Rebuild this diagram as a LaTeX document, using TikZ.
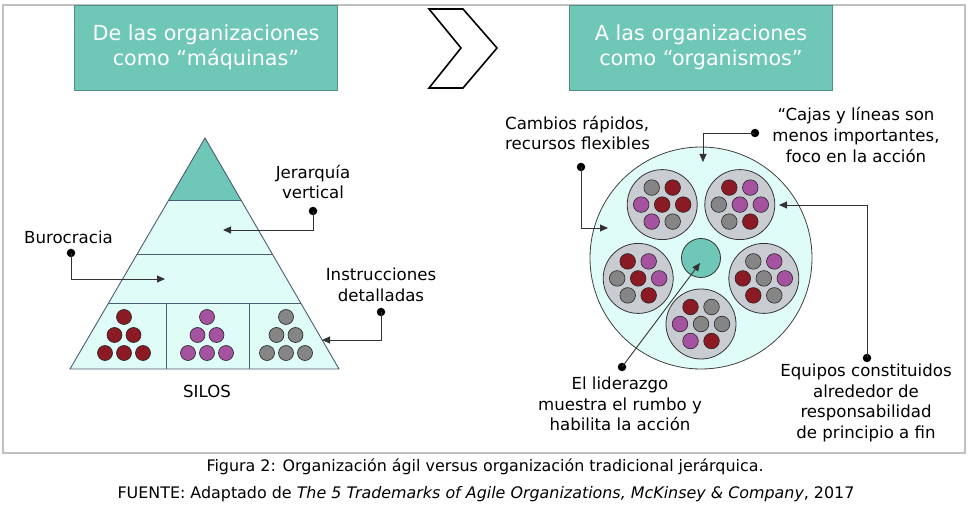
\documentclass[tikz,border=0pt]{standalone}
\usepackage{fontspec}
\setmainfont{DejaVu Sans}
\usetikzlibrary{arrows.meta,calc}
\definecolor{hdrteal}{HTML}{6FC8B7}
\definecolor{hdredge}{HTML}{4F8F84}
\definecolor{lightc}{HTML}{E0FCF7}
\definecolor{slate}{HTML}{4B5D73}
\definecolor{cred}{HTML}{8B1A24}
\definecolor{cpurp}{HTML}{A553A0}
\definecolor{cgray}{HTML}{858585}
\definecolor{teamfill}{HTML}{C9CDD2}
\definecolor{framegray}{HTML}{C0C0C0}
\begin{document}
\begin{tikzpicture}[x=1pt,y=-1pt,
  hdr/.style={draw=hdredge,line width=0.8pt,fill=hdrteal,text=white,align=center,
    minimum width=263pt,minimum height=85pt,inner sep=0pt,
    font=\fontsize{20.7}{24.5}\selectfont},
  lbl/.style={align=center,inner sep=0pt,font=\fontsize{16.6}{20.7}\selectfont},
  dotn/.style={circle,fill=black,inner sep=0pt,minimum size=8.5pt},
  conn/.style={draw=black!80,line width=0.9pt,-{Triangle[length=8pt,width=7pt]}},
  silo/.style={draw=black!85,line width=0.6pt},
  team/.style={circle,draw=black!80,line width=0.8pt,fill=teamfill,minimum size=70pt,inner sep=0pt},
  bigc/.style={circle,draw=black!75,line width=0.8pt,fill=lightc,minimum size=222pt,inner sep=0pt},
  leadc/.style={circle,draw=black!80,line width=0.8pt,fill=hdrteal,minimum size=39pt,inner sep=0pt},
  captxt/.style={inner sep=0pt,font=\fontsize{15.9}{18}\selectfont}]
\useasboundingbox (0,0) rectangle (971,518);
% frame
\draw[framegray,line width=1.2pt] (3,5) rectangle (965,453);
% headers
\node[hdr] (h1) at (206,47.5) {De las organizaciones\\como “máquinas”};
\node[hdr] (h2) at (701,47.5) {A las organizaciones\\como “organismos”};
% chevron
\draw[line width=1.6pt,fill=white,line join=miter] (429,9) -- (463,9) -- (497,48) -- (463,88) -- (429,88) -- (461,48) -- cycle;
% pyramid
\coordinate (apex) at (205,138);
\coordinate (bl) at (70,369);
\coordinate (br) at (339,369);
\coordinate (l1) at ($(apex)!0.2684!(bl)$);
\coordinate (r1) at ($(apex)!0.2684!(br)$);
\coordinate (l2) at ($(apex)!0.5022!(bl)$);
\coordinate (r2) at ($(apex)!0.5022!(br)$);
\coordinate (l3) at ($(apex)!0.7143!(bl)$);
\coordinate (r3) at ($(apex)!0.7143!(br)$);
\fill[lightc] (apex) -- (bl) -- (br) -- cycle;
\fill[hdrteal] (apex) -- (l1) -- (r1) -- cycle;
\draw[slate,line width=0.9pt] (l1) -- (r1) (l2) -- (r2) (l3) -- (r3)
  (166,303) -- (166,369) (249,303) -- (249,369);
\draw[slate,line width=0.9pt] (apex) -- (bl) -- (br) -- cycle;
\foreach \cx/\col in {124/cred,207/cpurp,286/cgray}{
  \foreach \dx/\dy in {0/317,-9.5/335,9.5/335,-19/353,0/353,19/353}
    \draw[silo,fill=\col] (\cx+\dx,\dy) circle (7.5pt);
}
\node[lbl] (silos) at (207,391) {SILOS};
% left labels
\node[lbl] (jer) at (313,182) {Jerarquía\\vertical};
\node[dotn] (d1) at (313,211) {};
\coordinate (t1) at (223,230);
\node[lbl,anchor=west] (buro) at (24,237) {Burocracia};
\node[dotn] (d2) at (71,253) {};
\coordinate (t2) at (165,279);
\node[lbl] (instr) at (381,285) {Instrucciones\\detalladas};
\node[dotn] (d3) at (381,312) {};
\coordinate (t3) at (322,340);
% organism
\node[bigc] (org) at (701,258) {};
\foreach \tx/\ty/\ca/\cb/\cc/\cd/\ce/\cf/\cg [count=\k] in {
  662.2/204.6/cgray/cred/cpurp/cred/cred/cpurp/cgray,
  739.8/204.6/cred/cpurp/cgray/cpurp/cpurp/cgray/cred,
  638.2/278.4/cred/cpurp/cgray/cred/cpurp/cgray/cred,
  763.8/278.4/cgray/cpurp/cred/cgray/cpurp/cred/cgray,
  701/324/cred/cgray/cpurp/cgray/cgray/cpurp/cred}{
  \node[team] (team\k) at (\tx,\ty) {};
  \draw[silo,fill=\ca] (\tx-10.5,\ty-17) circle (7.8pt);
  \draw[silo,fill=\cb] (\tx+10.5,\ty-17) circle (7.8pt);
  \draw[silo,fill=\cc] (\tx-21,\ty) circle (7.8pt);
  \draw[silo,fill=\cd] (\tx,\ty) circle (7.8pt);
  \draw[silo,fill=\ce] (\tx+21,\ty) circle (7.8pt);
  \draw[silo,fill=\cf] (\tx-10.5,\ty+17) circle (7.8pt);
  \draw[silo,fill=\cg] (\tx+10.5,\ty+17) circle (7.8pt);
}
\node[leadc] (lead) at (701,258) {};
% right labels
\node[lbl,anchor=west,align=left] (camb) at (505,133) {Cambios rápidos,\\recursos flexibles};
\node[dotn] (d4) at (581,167) {};
\coordinate (t4) at (608,228);
\node[lbl] (cajas) at (856,135) {“Cajas y líneas son\\menos importantes,\\foco en la acción};
\node[dotn] (d5) at (755,133) {};
\coordinate (t5) at (703,162);
\node[lbl] (equip) at (866,403) {Equipos constituidos\\alrededor de\\responsabilidad\\de principio a fin};
\node[dotn] (d6) at (867,358) {};
\coordinate (t6) at (779,205);
\node[lbl] (lider) at (620,404) {El liderazgo\\muestra el rumbo y\\habilita la acción};
\node[dotn] (d7) at (622,367) {};
\coordinate (t7) at (700,263);
% connectors
\draw[conn] (d1.center) |- (t1);
\draw[conn] (d2.center) |- (t2);
\draw[conn] (d3.center) |- (t3);
\draw[conn] (d4.center) |- (t4);
\draw[conn] (d5.center) -| (t5);
\draw[conn] (d6.center) |- (t6);
\draw[conn] (d7.center) -- (t7);
% caption
\node[captxt] (cap1) at (485,467) {Figura 2: Organización ágil versus organización tradicional jerárquica.};
\node[captxt] (cap2) at (486,494) {FUENTE: Adaptado de \textit{The 5 Trademarks of Agile Organizations, McKinsey \& Company}, 2017};
\end{tikzpicture}
\end{document}
